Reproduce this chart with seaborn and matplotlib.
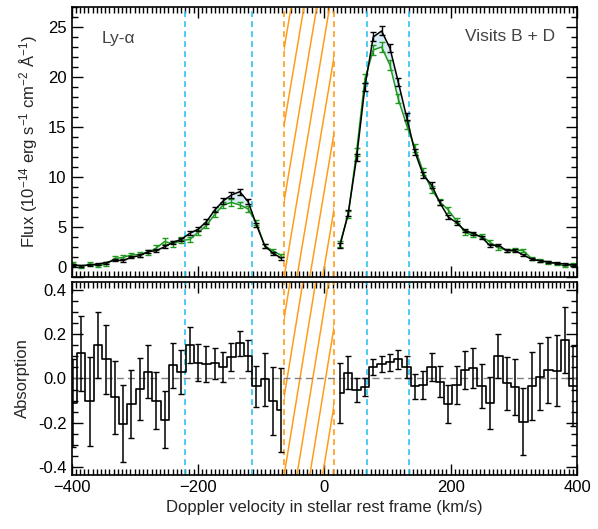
import numpy as np
import pandas as pd
import seaborn as sns
import matplotlib
matplotlib.use("Agg")
import matplotlib.pyplot as plt
from matplotlib.patches import Rectangle
from matplotlib.ticker import MultipleLocator, FormatStrFormatter
import matplotlib.transforms as mtransforms

# spectral bins (13.2 km/s) on each side of the masked core
vel_blue = np.round(-397.7 + 13.2 * np.arange(0, 26), 1)
vel_red = np.round(-397.7 + 13.2 * np.arange(32, 62), 1)

# out-of-transit (black) and in-transit (green) flux, 1e-14 erg/s/cm2/A
flux_ref_blue = [1.2, 1.13, 1.2, 1.3, 1.43, 1.7, 1.63, 1.97, 2.13, 2.53, 2.63, 3.03, 3.47,
                 3.77, 4.37, 4.77, 5.53, 6.7, 7.6, 8.2, 8.53, 7.53, 5.2, 3.1, 2.37, 1.87]
flux_ref_red = [3.1, 6.37, 11.9, 19.0, 24.0, 24.6, 22.9, 19.5, 16.0, 12.5, 10.2, 9.2, 7.4, 6.0,
                5.43, 4.63, 4.37, 3.97, 3.13, 3.2, 2.63, 2.63, 2.2, 1.77, 1.63, 1.5, 1.37, 1.3,
                1.2, 1.15]
err_ref_blue = [0.1, 0.1, 0.1, 0.1, 0.1, 0.12, 0.12, 0.12, 0.12, 0.14, 0.14, 0.15, 0.16, 0.17,
                0.18, 0.2, 0.22, 0.25, 0.27, 0.28, 0.3, 0.28, 0.22, 0.17, 0.14, 0.13]
err_ref_red = [0.25, 0.3, 0.35, 0.4, 0.45, 0.45, 0.42, 0.4, 0.35, 0.32, 0.3, 0.28, 0.25, 0.22,
               0.2, 0.18, 0.17, 0.16, 0.15, 0.14, 0.13, 0.12, 0.12, 0.1, 0.1, 0.1, 0.09, 0.09,
               0.09, 0.09]

flux_in_blue = [1.35, 1.0, 1.3, 1.1, 1.3, 1.85, 1.95, 2.2, 2.25, 2.45, 2.9, 3.55, 3.3, 3.65,
                3.75, 4.45, 5.15, 6.25, 7.2, 7.45, 7.2, 6.8, 5.4, 3.1, 2.6, 2.15]
flux_in_red = [3.3, 6.2, 12.5, 19.8, 22.7, 23.0, 21.2, 17.8, 15.2, 12.9, 10.5, 8.75, 7.5, 6.7,
               5.6, 4.45, 4.15, 4.1, 3.47, 2.9, 2.68, 2.73, 2.63, 1.83, 1.62, 1.44, 1.32, 1.08,
               1.24, 1.06]
err_in_blue = [0.15, 0.15, 0.15, 0.15, 0.16, 0.2, 0.2, 0.22, 0.22, 0.25, 0.25, 0.3, 0.28, 0.3,
               0.25, 0.27, 0.28, 0.3, 0.32, 0.33, 0.33, 0.3, 0.25, 0.2, 0.18, 0.17]
err_in_red = [0.3, 0.35, 0.4, 0.45, 0.5, 0.5, 0.48, 0.45, 0.4, 0.37, 0.35, 0.32, 0.3, 0.27,
              0.25, 0.22, 0.2, 0.2, 0.18, 0.17, 0.16, 0.16, 0.15, 0.13, 0.13, 0.12, 0.12, 0.11,
              0.11, 0.11]

# absorption depth
abs_blue = [-0.11, 0.115, -0.104, 0.15, 0.087, -0.086, -0.205, -0.115, -0.048, 0.03, -0.1,
            -0.187, 0.059, 0.03, 0.152, 0.072, 0.066, 0.069, 0.054, 0.097, 0.16, 0.103, -0.036,
            -0.003, -0.104, -0.142]
abs_red = [-0.066, 0.027, -0.051, -0.04, 0.054, 0.066, 0.074, 0.087, 0.051, -0.036, -0.03,
           0.051, -0.014, -0.115, -0.03, 0.039, 0.047, -0.033, -0.109, 0.1, -0.021, -0.039,
           -0.195, -0.033, 0.009, 0.039, 0.036, 0.175, -0.033, 0.075]
abs_err_blue = [0.2, 0.17, 0.2, 0.15, 0.155, 0.165, 0.175, 0.155, 0.14, 0.12, 0.13, 0.13, 0.1,
                0.1, 0.082, 0.085, 0.08, 0.07, 0.068, 0.062, 0.057, 0.07, 0.093, 0.12, 0.154, 0.19]
abs_err_red = [0.137, 0.075, 0.055, 0.04, 0.036, 0.037, 0.038, 0.043, 0.05, 0.056, 0.065, 0.064,
               0.072, 0.085, 0.085, 0.086, 0.09, 0.1, 0.118, 0.1, 0.12, 0.126, 0.15, 0.155, 0.15,
               0.15, 0.16, 0.15, 0.18, 0.18]

# ranges
blue_lines = [-220, -115, 68, 134]
core_mask = (-63.5, 15.5)

sns.set_style("ticks")
plt.rcParams["font.family"] = ["Liberation Sans", "DejaVu Sans"]
plt.rcParams["mathtext.default"] = "regular"
plt.rcParams["font.size"] = 12

GREEN = "#1f9a1f"
ORANGE = "#ff9d1a"
CYAN = "#2ec4f2"


def build(side_vals, key):
    frames = []
    for side, v, y, e in side_vals:
        frames.append(pd.DataFrame({"vel": v, key: y, "err": e, "side": side}))
    return pd.concat(frames, ignore_index=True)


ref = build([("blue", vel_blue, flux_ref_blue, err_ref_blue),
             ("red", vel_red, flux_ref_red, err_ref_red)], "flux")
trn = build([("blue", vel_blue, flux_in_blue, err_in_blue),
             ("red", vel_red, flux_in_red, err_in_red)], "flux")
absn = build([("blue", vel_blue, abs_blue, abs_err_blue),
              ("red", vel_red, abs_red, abs_err_red)], "absorption")

fig = plt.figure(figsize=(5.98, 5.29), dpi=100)
ax1 = fig.add_axes([0.1196, 0.4764, 0.8453, 0.5104])
ax2 = fig.add_axes([0.1196, 0.1021, 0.8453, 0.3648])


def hatch_core(ax, shift):
    trans = mtransforms.blended_transform_factory(ax.transData, ax.transAxes)
    clip = Rectangle((core_mask[0], 0), core_mask[1] - core_mask[0], 1,
                     transform=trans, facecolor="none", edgecolor="none")
    ax.add_patch(clip)
    for n in range(-5, 6):
        x0 = core_mask[0] + 20.3 * n
        ln, = ax.plot([x0, x0 + shift], [0, 1], color=ORANGE, lw=1.1, transform=trans)
        ln.set_clip_path(clip)
    for xv in core_mask:
        ax.axvline(xv, color=ORANGE, ls=(0, (3.5, 2.5)), lw=1.2)
    for xv in blue_lines:
        ax.axvline(xv, color=CYAN, ls=(0, (3.5, 2.5)), lw=1.2)


# top: flux profiles
hatch_core(ax1, 72)
for side in ["blue", "red"]:
    r = ref[ref.side == side]
    t = trn[trn.side == side]
    ax1.fill_between(r.vel, r.flux, t.flux, where=r.flux.values >= t.flux.values,
                     interpolate=True, color="#d9edf6", lw=0)
sns.lineplot(data=trn, x="vel", y="flux", units="side", estimator=None, color=GREEN,
             lw=1.1, ax=ax1)
ax1.errorbar(trn.vel, trn.flux, yerr=trn.err, fmt="none", ecolor=GREEN, elinewidth=1.0,
             capsize=2.5, capthick=1.0)
sns.lineplot(data=ref, x="vel", y="flux", units="side", estimator=None, color="black",
             lw=1.1, ax=ax1)
ax1.errorbar(ref.vel, ref.flux, yerr=ref.err, fmt="none", ecolor="black", elinewidth=1.0,
             capsize=2.5, capthick=1.0)
ax1.set_ylim(0, 27)
ax1.set_ylabel(r"Flux (10$^{-14}$ erg s$^{-1}$ cm$^{-2}$ Å$^{-1}$)", fontsize=12, labelpad=6)
ax1.set_xlabel("")
ax1.yaxis.set_major_locator(MultipleLocator(5))
ax1.yaxis.set_minor_locator(MultipleLocator(1))
ax1.tick_params(labelbottom=False)
ax1.text(0.06, 0.885, "Ly-α", transform=ax1.transAxes, fontsize=12.5, color="#444444",
         ha="left", va="center")
ax1.text(0.956, 0.89, "Visits B + D", transform=ax1.transAxes, fontsize=12.5,
         color="#444444", ha="right", va="center")

# bottom: absorption
hatch_core(ax2, 50)
ax2.axhline(0, color="gray", ls=(0, (5, 3)), lw=1.0)
sns.lineplot(data=absn, x="vel", y="absorption", units="side", estimator=None,
             color="black", lw=1.2, drawstyle="steps-mid", ax=ax2)
ax2.errorbar(absn.vel, absn.absorption, yerr=absn.err, fmt="none", ecolor="black",
             elinewidth=1.1, capsize=2.5, capthick=1.0)
ax2.set_ylim(-0.437, 0.437)
ax2.set_ylabel("Absorption", fontsize=12, labelpad=6)
ax2.set_xlabel("Doppler velocity in stellar rest frame (km/s)", fontsize=12, labelpad=4)
ax2.yaxis.set_major_locator(MultipleLocator(0.2))
ax2.yaxis.set_minor_locator(MultipleLocator(0.05))
ax2.yaxis.set_major_formatter(FormatStrFormatter("%.1f"))

for ax in (ax1, ax2):
    ax.set_xlim(-400, 400)
    ax.xaxis.set_major_locator(MultipleLocator(200))
    ax.xaxis.set_minor_locator(MultipleLocator(200 / 30))
    ax.tick_params(which="both", direction="in", top=True, right=True, labelsize=12,
                   width=1.0, colors="black")
    ax.tick_params(which="major", length=8)
    ax.tick_params(which="minor", length=4)
    for s in ax.spines.values():
        s.set_linewidth(1.2)
        s.set_color("black")

# nudge the "0" of the flux axis up so it clears the "0.4" below it
fig.canvas.draw()
lift = mtransforms.ScaledTranslation(0, 7 / 72, fig.dpi_scale_trans)
for tick in ax1.yaxis.get_major_ticks():
    if abs(tick.get_loc()) < 1e-9:
        tick.label1.set_transform(tick.label1.get_transform() + lift)

fig.savefig("out.png", dpi=100)
